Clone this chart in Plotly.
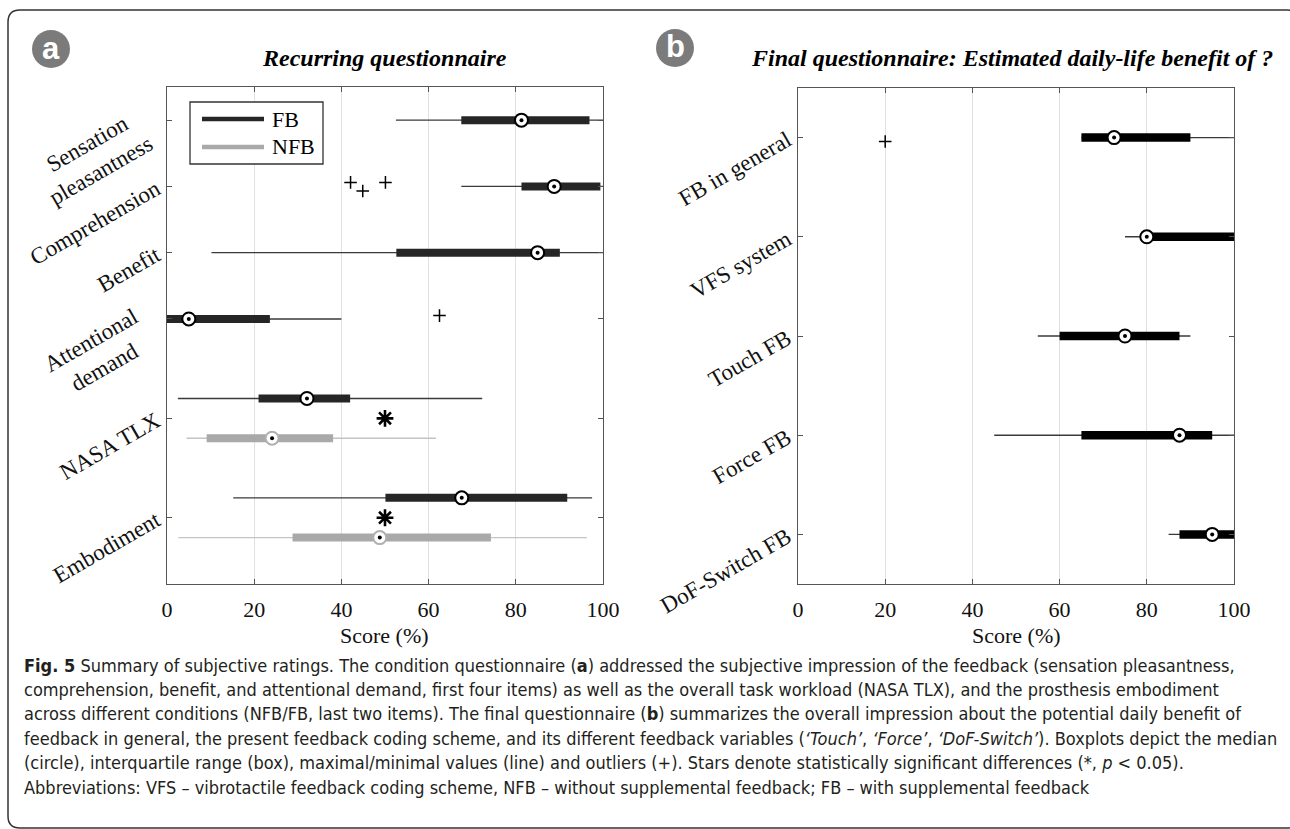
import plotly.graph_objects as go

W, H = 1290, 829

# ---------------- data ----------------
# Panel a: recurring questionnaire (FB = with feedback, NFB = without)
cats_a = ["Sensation<br>pleasantness", "Comprehension", "Benefit",
          "Attentional<br>demand", "NASA TLX", "Embodiment"]
fb_lo = [52.5, 67.5, 10.2, 0.0, 2.5, 15.2]
fb_q1 = [67.5, 81.3, 52.6, 0.0, 21.0, 50.1]
fb_med = [81.3, 88.8, 85.0, 5.0, 32.1, 67.6]
fb_q3 = [96.9, 99.4, 90.1, 23.6, 42.0, 91.8]
fb_hi = [100.0, 100.0, 100.0, 40.0, 72.3, 97.5]

nfb_cats = ["NASA TLX", "Embodiment"]
nfb_lo = [4.5, 2.6]
nfb_q1 = [9.1, 28.8]
nfb_med = [24.1, 48.8]
nfb_q3 = [38.1, 74.3]
nfb_hi = [61.7, 96.3]

out_a_cats = ["Comprehension", "Comprehension", "Comprehension", "Attentional<br>demand"]
out_a_vals = [42.1, 44.9, 50.1, 62.5]

star_cats = ["NASA TLX", "Embodiment"]
star_vals = [50.0, 50.0]

# Panel b: final questionnaire
cats_b = ["FB in general", "VFS system", "Touch FB", "Force FB", "DoF-Switch FB"]
b_lo = [65.0, 75.0, 55.0, 45.0, 85.0]
b_q1 = [65.0, 80.0, 60.0, 65.0, 87.5]
b_med = [72.5, 80.0, 75.0, 87.5, 95.0]
b_q3 = [90.0, 100.0, 87.5, 95.0, 100.0]
b_hi = [100.0, 100.0, 90.0, 100.0, 100.0]
out_b_cats = ["FB in general"]
out_b_vals = [20.0]

x_ticks = [0, 20, 40, 60, 80, 100]

caption_lines = [
    "<b>Fig. 5</b> Summary of subjective ratings. The condition questionnaire (<b>a</b>) addressed the subjective impression of the feedback (sensation pleasantness,",
    "comprehension, benefit, and attentional demand, first four items) as well as the overall task workload (NASA TLX), and the prosthesis embodiment",
    "across different conditions (NFB/FB, last two items). The final questionnaire (<b>b</b>) summarizes the overall impression about the potential daily benefit of",
    "feedback in general, the present feedback coding scheme, and its different feedback variables (<i>‘Touch’</i>, <i>‘Force’</i>, <i>‘DoF-Switch’</i>). Boxplots depict the median",
    "(circle), interquartile range (box), maximal/minimal values (line) and outliers (+). Stars denote statistically significant differences (*, <i>p</i> &lt; 0.05).",
    "Abbreviations: VFS – vibrotactile feedback coding scheme, NFB – without supplemental feedback; FB – with supplemental feedback",
]

# ---------------- layout helpers ----------------
row_pos_a = dict(zip(cats_a, [0, 1, 2, 3, 4.5, 6]))
paired = set(nfb_cats)
pair_off = 0.3
row_pos_b = {c: i for i, c in enumerate(cats_b)}
jit_a = [-0.06, 0.07, -0.06, -0.05]
jit_b = [0.04]

NB = "\u00a0"


def centre_two_line(label, pad_long=3, extra_short=None):
    """Tick labels are right-aligned: pad lines with no-break spaces so the
    two lines look centred and the block sits a bit away from the axis."""
    if "<br>" not in label:
        return label
    l1, l2 = label.split("<br>")
    n1 = n2 = pad_long
    if len(l1) < len(l2):
        n1 += extra_short
    else:
        n2 += extra_short
    return l1 + NB * n1 + "<br>" + l2 + NB * n2


tick_text_a = [centre_two_line(c, 3, 2 if c.startswith("Sensation") else 3) for c in cats_a]

SERIF = "Liberation Serif, Times New Roman, serif"
FB_COL = "#262626"
NFB_COL = "#a9a9a9"


def px(x):
    return x / W


def py(y):
    return 1 - y / H


def segs(los, his, ys):
    xs, yy = [], []
    for a, b, y in zip(los, his, ys):
        xs += [a, b, None]
        yy += [y, y, None]
    return xs, yy


def add_boxes(fig, lo, q1, med, q3, hi, ys, xa, ya, box_col, wh_col, ring_col, wh_w=1.4, box_w=8):
    xs, yy = segs(lo, hi, ys)
    fig.add_trace(go.Scatter(x=xs, y=yy, mode="lines", line=dict(color=wh_col, width=wh_w),
                             xaxis=xa, yaxis=ya, showlegend=False, hoverinfo="skip"))
    xs, yy = segs(q1, q3, ys)
    fig.add_trace(go.Scatter(x=xs, y=yy, mode="lines", line=dict(color=box_col, width=box_w),
                             xaxis=xa, yaxis=ya, showlegend=False, hoverinfo="skip"))
    fig.add_trace(go.Scatter(x=med, y=ys, mode="markers",
                             marker=dict(symbol="circle", size=13, color="white",
                                         line=dict(color=ring_col, width=2)),
                             xaxis=xa, yaxis=ya, showlegend=False, cliponaxis=False))
    fig.add_trace(go.Scatter(x=med, y=ys, mode="markers",
                             marker=dict(symbol="circle", size=4, color="black"),
                             xaxis=xa, yaxis=ya, showlegend=False, cliponaxis=False))


fig = go.Figure()

# Panel a FB
ys_fb = [row_pos_a[c] - (pair_off if c in paired else 0) for c in cats_a]
add_boxes(fig, fb_lo, fb_q1, fb_med, fb_q3, fb_hi, ys_fb, "x", "y", FB_COL, "#3a3a3a", "black")
# Panel a NFB
ys_nfb = [row_pos_a[c] + pair_off for c in nfb_cats]
add_boxes(fig, nfb_lo, nfb_q1, nfb_med, nfb_q3, nfb_hi, ys_nfb, "x", "y", NFB_COL, "#c4c4c4", "#b0b0b0")
# outliers a
fig.add_trace(go.Scatter(x=out_a_vals, y=[row_pos_a[c] + j for c, j in zip(out_a_cats, jit_a)],
                         mode="markers", marker=dict(symbol="cross-thin-open", size=9, color="black",
                                                     line=dict(color="black", width=1.5)),
                         xaxis="x", yaxis="y", showlegend=False))
# significance stars
fig.add_trace(go.Scatter(x=star_vals, y=[row_pos_a[c] for c in star_cats], mode="markers",
                         marker=dict(symbol="asterisk-open", size=14, color="black",
                                     line=dict(color="black", width=2.6)),
                         xaxis="x", yaxis="y", showlegend=False))

# Panel b
ys_b = [row_pos_b[c] for c in cats_b]
add_boxes(fig, b_lo, b_q1, b_med, b_q3, b_hi, ys_b, "x2", "y2", "black", "#3a3a3a", "black", box_w=8.5)
fig.add_trace(go.Scatter(x=out_b_vals, y=[row_pos_b[c] + j for c, j in zip(out_b_cats, jit_b)],
                         mode="markers", marker=dict(symbol="cross-thin-open", size=9, color="black",
                                                     line=dict(color="black", width=1.5)),
                         xaxis="x2", yaxis="y2", showlegend=False))

axis_common = dict(showline=True, linecolor="#555555", linewidth=1.3, mirror="ticks",
                   ticks="inside", ticklen=5, tickcolor="#555555", zeroline=False,
                   automargin=False)
xcommon = dict(axis_common, range=[0, 100], tickvals=x_ticks, showgrid=True,
               gridcolor="#e0e0e0", gridwidth=1,
               tickfont=dict(family=SERIF, size=22, color="#111111"), ticklabelstandoff=5)
ycommon = dict(axis_common, showgrid=False, tickangle=-30, ticklabelstandoff=5,
               tickfont=dict(family=SERIF, size=23, color="#111111"))

fig.update_layout(
    template="none",
    width=W, height=H, margin=dict(l=0, r=0, t=0, b=0, pad=0, autoexpand=False),
    paper_bgcolor="white", plot_bgcolor="white", showlegend=False,
    xaxis=dict(xcommon, domain=[px(167), px(603)], anchor="y"),
    yaxis=dict(ycommon, domain=[py(584), py(87)], range=[7, -0.5], anchor="x",
               tickvals=[row_pos_a[c] for c in cats_a], ticktext=tick_text_a),
    xaxis2=dict(xcommon, domain=[px(798), px(1234)], anchor="y2"),
    yaxis2=dict(ycommon, domain=[py(584), py(88)], range=[4.5, -0.5], anchor="x2",
                tickvals=[row_pos_b[c] for c in cats_b], ticktext=cats_b),
)

shapes = []
ann = []

# outer rounded border (right edge runs off the canvas)
L, T, R, B, r = 8, 10, 1299, 828, 12
path = (f"M {px(L)},{py(T + r)} Q {px(L)},{py(T)} {px(L + r)},{py(T)} "
        f"L {px(R - r)},{py(T)} Q {px(R)},{py(T)} {px(R)},{py(T + r)} "
        f"L {px(R)},{py(B - r)} Q {px(R)},{py(B)} {px(R - r)},{py(B)} "
        f"L {px(L + r)},{py(B)} Q {px(L)},{py(B)} {px(L)},{py(B - r)} Z")
shapes.append(dict(type="path", xref="paper", yref="paper", path=path,
                   line=dict(color="#333333", width=1.5)))

# panel letters
for letter, cx, cy in [("a", 51, 49), ("b", 675, 48)]:
    rr = 19
    shapes.append(dict(type="circle", xref="paper", yref="paper",
                       x0=px(cx - rr), x1=px(cx + rr), y0=py(cy + rr), y1=py(cy - rr),
                       fillcolor="#7b7b7b", line=dict(width=0)))
    ann.append(dict(text=f"<b>{letter}</b>", x=px(cx), y=py(cy - 1), xref="paper", yref="paper",
                    showarrow=False, xanchor="center", yanchor="middle",
                    font=dict(family="Liberation Sans, Arial, sans-serif", size=31, color="white")))

# titles
ann.append(dict(text="<b><i>Recurring questionnaire</i></b>", x=px(385), y=py(58),
                xref="paper", yref="paper", showarrow=False, xanchor="center", yanchor="middle",
                font=dict(family=SERIF, size=24, color="black")))
ann.append(dict(text="<b><i>Final questionnaire: Estimated daily-life benefit of ?</i></b>",
                x=px(1012), y=py(58), xref="paper", yref="paper", showarrow=False,
                xanchor="center", yanchor="middle", font=dict(family=SERIF, size=24, color="black")))

# x axis titles
for cx in [385, 1016]:
    ann.append(dict(text="Score (%)", x=px(cx), y=py(635), xref="paper", yref="paper",
                    showarrow=False, xanchor="center", yanchor="middle",
                    font=dict(family=SERIF, size=22, color="#111111")))

# legend (panel a)
shapes.append(dict(type="rect", xref="paper", yref="paper", x0=px(190), x1=px(323),
                   y0=py(164), y1=py(102), line=dict(color="#333333", width=1.3),
                   fillcolor="white", layer="above"))
for name, col, yy in [("FB", FB_COL, 119), ("NFB", NFB_COL, 147)]:
    shapes.append(dict(type="line", xref="paper", yref="paper", x0=px(202), x1=px(264),
                       y0=py(yy), y1=py(yy), line=dict(color=col, width=4.5), layer="above"))
    ann.append(dict(text=name, x=px(270), y=py(yy), xref="paper", yref="paper",
                    showarrow=False, xanchor="left", yanchor="middle",
                    font=dict(family=SERIF, size=22, color="black")))

# caption
for i, line in enumerate(caption_lines):
    ann.append(dict(text=line, x=px(22), y=py(665 + i * 24.4), xref="paper", yref="paper",
                    showarrow=False, xanchor="left", yanchor="middle",
                    font=dict(family="Liberation Sans Narrow, DejaVu Sans Condensed, Roboto Condensed, sans-serif",
                              size=18, color="#231f20")))

fig.update_layout(shapes=shapes, annotations=ann)

fig.write_html("out.html", config={"displayModeBar": False},
               post_script="document.body.style.margin='0';document.body.style.overflow='hidden';")
